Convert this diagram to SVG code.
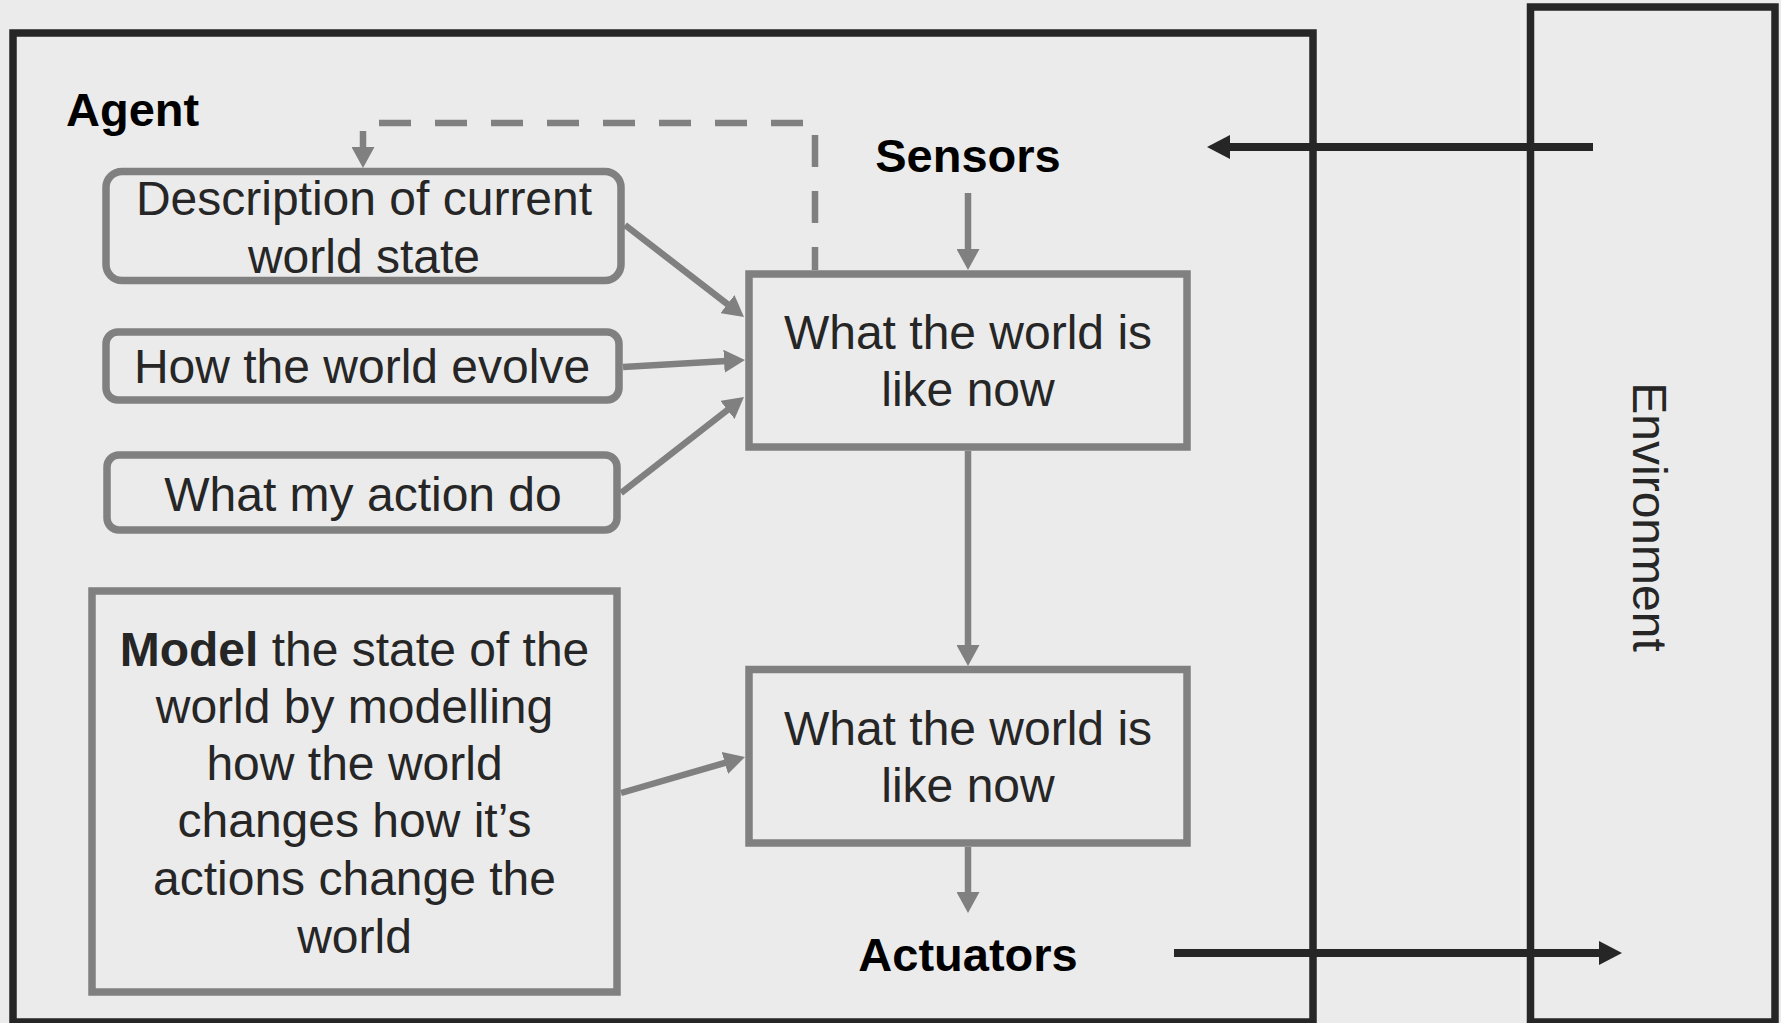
<svg xmlns="http://www.w3.org/2000/svg" width="1781" height="1023" viewBox="0 0 1781 1023">
  <style>
    .bg { fill: #ebebeb; }
    .frame { fill: none; stroke: #262626; stroke-width: 7.5; }
    .box { fill: none; stroke: #808080; stroke-width: 7.5; }
    .txt { font-family: "Liberation Sans", Arial, sans-serif; font-size: 48px; fill: #262626; text-anchor: middle; }
    .lbl { font-family: "Liberation Sans", Arial, sans-serif; font-size: 47px; font-weight: bold; fill: #000; }
    .gline { fill: none; stroke: #808080; stroke-width: 6.5; }
    .bline { fill: none; stroke: #262626; stroke-width: 8; }
  </style>
  <defs>
    <marker id="ga" markerUnits="userSpaceOnUse" viewBox="0 0 21 23" refX="11" refY="11.5" markerWidth="21" markerHeight="23" orient="auto">
      <path d="M0,0 L21,11.5 L0,23 Z" fill="#808080"/>
    </marker>
    <marker id="ba" markerUnits="userSpaceOnUse" viewBox="0 0 23 24" refX="12" refY="12" markerWidth="23" markerHeight="24" orient="auto">
      <path d="M0,0 L23,12 L0,24 Z" fill="#262626"/>
    </marker>
  </defs>
  <rect class="bg" x="0" y="0" width="1781" height="1023"/>

  <g id="agent">
    <rect class="frame" x="13" y="33" width="1300" height="989"/>
    <text class="lbl" x="66" y="126">Agent</text>
  </g>

  <g id="environment">
    <rect class="frame" x="1530.5" y="7" width="244.5" height="1015"/>
    <text class="txt" transform="translate(1633 517) rotate(90)" x="0" y="0">Environment</text>
  </g>

  <g id="sensors">
    <text class="lbl" x="968" y="172" text-anchor="middle">Sensors</text>
  </g>

  <g id="actuators">
    <text class="lbl" x="968" y="971" text-anchor="middle">Actuators</text>
  </g>

  <g id="description">
    <rect class="box" x="106" y="171.5" width="515" height="109" rx="16" ry="16"/>
    <text class="txt" x="364" y="215">Description of current</text>
    <text class="txt" x="364" y="273">world state</text>
  </g>

  <g id="evolve">
    <rect class="box" x="106" y="332" width="513" height="68" rx="12" ry="12"/>
    <text class="txt" x="362" y="383">How the world evolve</text>
  </g>

  <g id="action">
    <rect class="box" x="107" y="455" width="510" height="75" rx="12" ry="12"/>
    <text class="txt" x="363" y="511">What my action do</text>
  </g>

  <g id="model">
    <rect class="box" x="92" y="591" width="525" height="401"/>
    <text class="txt" x="354.5" y="666"><tspan font-weight="bold">Model</tspan> the state of the</text>
    <text class="txt" x="354.5" y="723">world by modelling</text>
    <text class="txt" x="354.5" y="780">how the world</text>
    <text class="txt" x="354.5" y="837">changes how it’s</text>
    <text class="txt" x="354.5" y="895">actions change the</text>
    <text class="txt" x="354.5" y="953">world</text>
  </g>

  <g id="world-now-1">
    <rect class="box" x="749" y="274" width="438" height="173"/>
    <text class="txt" x="968" y="349">What the world is</text>
    <text class="txt" x="968" y="406">like now</text>
  </g>

  <g id="world-now-2">
    <rect class="box" x="749" y="669.5" width="438" height="173.5"/>
    <text class="txt" x="968" y="745">What the world is</text>
    <text class="txt" x="968" y="802">like now</text>
  </g>

  <g id="connectors">
    <path class="gline" d="M815,270 V123 H363 V158" stroke-dasharray="32 24" stroke-dashoffset="9" marker-end="url(#ga)"/>
    <path class="gline" d="M968,193 V260" marker-end="url(#ga)"/>
    <path class="gline" d="M625,225 L736.1,310.9" marker-end="url(#ga)"/>
    <path class="gline" d="M623,367 L735,360.6" marker-end="url(#ga)"/>
    <path class="gline" d="M621,493 L736.1,403.2" marker-end="url(#ga)"/>
    <path class="gline" d="M621,793 L735.4,759.8" marker-end="url(#ga)"/>
    <path class="gline" d="M968,451 V656" marker-end="url(#ga)"/>
    <path class="gline" d="M968,847 V903" marker-end="url(#ga)"/>
    <path class="bline" d="M1593,147 H1218" marker-end="url(#ba)"/>
    <path class="bline" d="M1174,953 H1611" marker-end="url(#ba)"/>
  </g>
</svg>
